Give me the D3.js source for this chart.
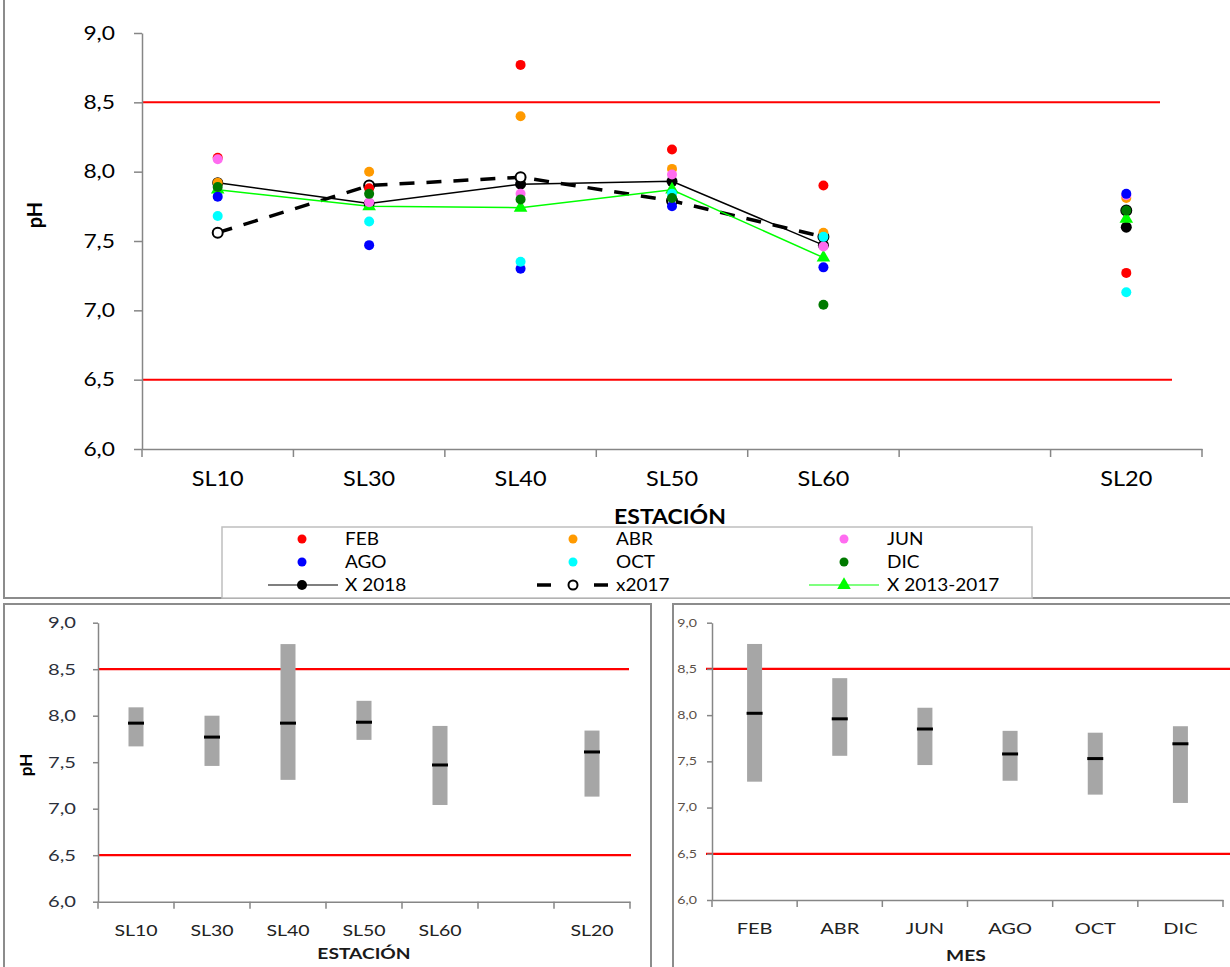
<!DOCTYPE html>
<html>
<head>
<meta charset="utf-8">
<script src="https://cdn.jsdelivr.net/npm/d3@7"></script>
<style>
  body { margin: 0; background: #fff; }
  svg { display: block; }
  text { font-family: Lato, "Open Sans", sans-serif; }
</style>
</head>
<body>
<svg id="chart" width="1230" height="967"></svg>
<script>
// ---- data ----
const stations = ["SL10", "SL30", "SL40", "SL50", "SL60", "", "SL20"];
const months = ["FEB", "ABR", "JUN", "AGO", "OCT", "DIC"];

// monthly pH per station (blank category has no data)
const phFEB = [8.10, 7.88, 8.77, 8.16, 7.90, null, 7.27];
const phABR = [7.92, 8.00, 8.40, 8.02, 7.56, null, 7.81];
const phJUN = [8.09, 7.78, 7.84, 7.98, 7.46, null, 7.83];
const phAGO = [7.82, 7.47, 7.30, 7.75, 7.31, null, 7.84];
const phOCT = [7.68, 7.64, 7.35, 7.84, 7.53, null, 7.13];
const phDIC = [7.89, 7.84, 7.80, 7.81, 7.04, null, 7.72];

// station averages
const mean2018 = [7.92, 7.77, 7.91, 7.93, 7.47, null, 7.60];
const mean2017 = [7.56, 7.90, 7.96, 7.79, 7.53, null, 7.72];
const mean2013_2017 = [7.87, 7.75, 7.74, 7.87, 7.38, null, 7.66];

// range and average per station
const stationMin = [7.67, 7.46, 7.31, 7.74, 7.04, null, 7.13];
const stationMax = [8.09, 8.00, 8.77, 8.16, 7.89, null, 7.84];
const stationMean = [7.92, 7.77, 7.92, 7.93, 7.47, null, 7.61];

// range and average per month
const monthMin = [7.28, 7.56, 7.46, 7.29, 7.14, 7.05];
const monthMax = [8.77, 8.40, 8.08, 7.83, 7.81, 7.88];
const monthMean = [8.02, 7.96, 7.85, 7.58, 7.53, 7.69];

// guideline limits and y ticks
const limits = [8.5, 6.5];
const yTicks = [6.0, 6.5, 7.0, 7.5, 8.0, 8.5, 9.0];

// ---- helpers ----
const locale = d3.formatLocale({ decimal: ",", thousands: ".", grouping: [3], currency: ["", ""] });
const fmt = locale.format(".1f");
const svg = d3.select("#chart");
const axisGray = "#868686";

const monthSeries = [
  { name: "FEB", color: "#ff0000", values: phFEB },
  { name: "ABR", color: "#ff9a00", values: phABR },
  { name: "JUN", color: "#ff6cf0", values: phJUN },
  { name: "AGO", color: "#0000ff", values: phAGO },
  { name: "OCT", color: "#00ffff", values: phOCT },
  { name: "DIC", color: "#007a00", values: phDIC }
];

// widen glyphs horizontally around the text anchor
function stretch(sel, k, origin) {
  sel.style("transform-box", "fill-box")
     .style("transform-origin", origin)
     .style("transform", `scaleX(${k})`);
}

function styleAxis(g, fontSize, color) {
  g.selectAll("path.domain").attr("stroke", axisGray).attr("stroke-width", 1.5);
  g.selectAll(".tick line").attr("stroke", axisGray).attr("stroke-width", 1.5);
  g.selectAll("text").attr("font-size", fontSize).attr("fill", color);
}

function boundaryTicks(g, xs, yBase, len) {
  const r = xs.range();
  const n = xs.domain().length;
  g.selectAll("line.bt").data(d3.range(n + 1)).join("line")
    .attr("class", "bt")
    .attr("x1", i => r[0] + i * xs.step()).attr("x2", i => r[0] + i * xs.step())
    .attr("y1", yBase).attr("y2", yBase + len)
    .attr("stroke", axisGray).attr("stroke-width", 1.5);
}

// ================= TOP PANEL =================
svg.append("rect").attr("x", 4).attr("y", -2).attr("width", 1230).attr("height", 600)
  .attr("fill", "none").attr("stroke", "#8c8c8c").attr("stroke-width", 2);

const xT = d3.scaleBand().domain(stations).range([142, 1202]);
const yT = d3.scaleLinear().domain([6, 9]).range([449, 33]);
const topG = svg.append("g");

// limit lines
topG.selectAll("line.lim").data(limits).join("line")
  .attr("x1", 142).attr("x2", (d, i) => i === 0 ? 1160 : 1172)
  .attr("y1", d => yT(d)).attr("y2", d => yT(d))
  .attr("stroke", "#ff0000").attr("stroke-width", 2);

// axes
const gyT = topG.append("g").attr("transform", "translate(142,0)")
  .call(d3.axisLeft(yT).tickValues(yTicks).tickFormat(fmt).tickSize(8).tickSizeOuter(0).tickPadding(19));
styleAxis(gyT, 19, "#000");
stretch(gyT.selectAll("text"), 1.2, "100% 50%");
const gxT = topG.append("g").attr("transform", "translate(0,449)")
  .call(d3.axisBottom(xT).tickSize(0).tickSizeOuter(0).tickPadding(22));
styleAxis(gxT, 21, "#000");
stretch(gxT.selectAll("text"), 1.12, "50% 50%");
boundaryTicks(topG, xT, 449, 8);

topG.append("text").attr("transform", "translate(42,215) rotate(-90)")
  .attr("text-anchor", "middle").attr("font-size", 20).attr("font-weight", "bold").text("pH");
const tTitle = topG.append("text").attr("x", 670).attr("y", 524).attr("text-anchor", "middle")
  .attr("font-size", 20).attr("font-weight", "bold").text("ESTACIÓN");
stretch(tTitle, 1.15, "50% 50%");

const cx = i => xT(stations[i]) + xT.bandwidth() / 2;
const idx = stations.map((d, i) => i);
const lineGen = vals => d3.line()
  .defined(i => vals[i] != null && i < 5)
  .x(i => cx(i)).y(i => yT(vals[i]))(idx);

// average lines (drawn under the monthly dots)
topG.append("path").attr("d", lineGen(mean2018)).attr("fill", "none")
  .attr("stroke", "#000").attr("stroke-width", 1.5);
topG.append("path").attr("d", lineGen(mean2017)).attr("fill", "none")
  .attr("stroke", "#000").attr("stroke-width", 3.5).attr("stroke-dasharray", "15,12");
topG.append("path").attr("d", lineGen(mean2013_2017)).attr("fill", "none")
  .attr("stroke", "#00ff00").attr("stroke-width", 1.5);

const valid = vals => idx.filter(i => vals[i] != null);
topG.selectAll("circle.m18").data(valid(mean2018)).join("circle")
  .attr("cx", cx).attr("cy", i => yT(mean2018[i])).attr("r", 5.5).attr("fill", "#000");
topG.selectAll("circle.m17").data(valid(mean2017)).join("circle")
  .attr("cx", cx).attr("cy", i => yT(mean2017[i])).attr("r", 5)
  .attr("fill", "#fff").attr("stroke", "#000").attr("stroke-width", 2);
const tri = d3.symbol().type(d3.symbolTriangle).size(80);
topG.selectAll("path.m13").data(valid(mean2013_2017)).join("path")
  .attr("transform", i => `translate(${cx(i)},${yT(mean2013_2017[i])})`)
  .attr("d", tri).attr("fill", "#00ff00");

// monthly dots
monthSeries.forEach(s => {
  topG.append("g").selectAll("circle").data(valid(s.values)).join("circle")
    .attr("cx", cx).attr("cy", i => yT(s.values[i])).attr("r", 5).attr("fill", s.color);
});

// legend
const lg = topG.append("g");
lg.append("rect").attr("x", 222).attr("y", 527).attr("width", 810).attr("height", 71)
  .attr("fill", "#fff").attr("stroke", "#bfbfbf").attr("stroke-width", 1.5);
const colM = [302, 573, 844], colT = [345, 616, 887], rowY = [539, 562, 585];
const legendText = (x, y, s) => {
  const t = lg.append("text").attr("x", x).attr("y", y).attr("dy", "0.35em")
    .attr("font-size", 16.5).text(s);
  stretch(t, 1.15, "0% 50%");
};
monthSeries.forEach((s, k) => {
  const c = k % 3, r = Math.floor(k / 3);
  lg.append("circle").attr("cx", colM[c]).attr("cy", rowY[r]).attr("r", 4.5).attr("fill", s.color);
  legendText(colT[c], rowY[r], s.name);
});
// X 2018
lg.append("line").attr("x1", 268).attr("x2", 338).attr("y1", rowY[2]).attr("y2", rowY[2])
  .attr("stroke", "#000").attr("stroke-width", 1.2);
lg.append("circle").attr("cx", colM[0]).attr("cy", rowY[2]).attr("r", 5).attr("fill", "#000");
legendText(colT[0], rowY[2], "X 2018");
// x2017
lg.append("line").attr("x1", 537).attr("x2", 608).attr("y1", rowY[2]).attr("y2", rowY[2])
  .attr("stroke", "#000").attr("stroke-width", 3.5).attr("stroke-dasharray", "14,43");
lg.append("circle").attr("cx", colM[1]).attr("cy", rowY[2]).attr("r", 4.5)
  .attr("fill", "#fff").attr("stroke", "#000").attr("stroke-width", 2);
legendText(colT[1], rowY[2], "x2017");
// X 2013-2017
lg.append("line").attr("x1", 809).attr("x2", 879).attr("y1", rowY[2]).attr("y2", rowY[2])
  .attr("stroke", "#00ff00").attr("stroke-width", 1.2);
lg.append("path").attr("transform", `translate(${colM[2]},${rowY[2]})`).attr("d", tri).attr("fill", "#00ff00");
legendText(colT[2], rowY[2], "X 2013-2017");

// ================= BOTTOM PANELS =================
function rangePanel(opts) {
  const g = svg.append("g");
  g.append("rect").attr("x", opts.box[0]).attr("y", opts.box[1]).attr("width", opts.box[2]).attr("height", opts.box[3])
    .attr("fill", "#fff").attr("stroke", "#8c8c8c").attr("stroke-width", 2);
  const xs = d3.scaleBand().domain(opts.cats).range(opts.xr);
  const ys = d3.scaleLinear().domain([6, 9]).range(opts.yr);

  g.selectAll("line.lim").data(limits).join("line")
    .attr("x1", opts.limX[0]).attr("x2", (d, i) => opts.limX[1 + i])
    .attr("y1", d => ys(d)).attr("y2", d => ys(d))
    .attr("stroke", "#ff0000").attr("stroke-width", 2.2);

  const gy = g.append("g").attr("transform", `translate(${opts.xr[0]},0)`)
    .call(d3.axisLeft(ys).tickValues(yTicks).tickFormat(fmt).tickSize(5).tickSizeOuter(0).tickPadding(opts.yPad));
  styleAxis(gy, opts.yFont, opts.yColor);
  stretch(gy.selectAll("text"), opts.yStretch, "100% 50%");
  const gx = g.append("g").attr("transform", `translate(0,${opts.yr[0]})`)
    .call(d3.axisBottom(xs).tickSize(0).tickSizeOuter(0).tickPadding(opts.xPad));
  styleAxis(gx, opts.xFont, "#222");
  stretch(gx.selectAll("text"), opts.xStretch, "50% 50%");
  boundaryTicks(g, xs, opts.yr[0], 7);

  const items = opts.cats.map((c, i) => i).filter(i => opts.mn[i] != null);
  const ccx = i => xs(opts.cats[i]) + xs.bandwidth() / 2;
  g.selectAll("rect.bar").data(items).join("rect")
    .attr("x", i => ccx(i) - 7.5).attr("width", 15)
    .attr("y", i => ys(opts.mx[i])).attr("height", i => ys(opts.mn[i]) - ys(opts.mx[i]))
    .attr("fill", "#a6a6a6");
  g.selectAll("rect.avg").data(items).join("rect")
    .attr("x", i => ccx(i) - 8).attr("width", 16)
    .attr("y", i => ys(opts.avg[i]) - 1.5).attr("height", 3)
    .attr("fill", "#000");

  const t = g.append("text").attr("x", opts.title[0]).attr("y", opts.title[1]).attr("text-anchor", "middle")
    .attr("font-size", 16).attr("font-weight", "bold").attr("fill", "#1a1a1a").text(opts.title[2]);
  stretch(t, 1.2, "50% 50%");
  if (opts.yLabel) {
    g.append("text").attr("transform", `translate(${opts.yLabel[0]},${opts.yLabel[1]}) rotate(-90)`)
      .attr("text-anchor", "middle").attr("font-size", 17).attr("font-weight", "bold").text("pH");
  }
}

rangePanel({
  box: [4, 604, 647, 370], cats: stations, xr: [98, 630], yr: [901.7, 622.7],
  limX: [98, 629, 631], yPad: 17, yFont: 15.5, yColor: "#2b2f3a", yStretch: 1.3,
  xPad: 23, xFont: 16, xStretch: 1.22,
  mn: stationMin, mx: stationMax, avg: stationMean,
  title: [364, 959, "ESTACIÓN"], yLabel: [32, 765]
});

rangePanel({
  box: [673, 604, 560, 370], cats: months, xr: [712, 1223], yr: [900, 622.7],
  limX: [706, 1232, 1232], yPad: 10, yFont: 10.5, yColor: "#5b5048", yStretch: 1.35,
  xPad: 23, xFont: 16, xStretch: 1.25,
  mn: monthMin, mx: monthMax, avg: monthMean,
  title: [966, 961, "MES"], yLabel: null
});
</script>
</body>
</html>
